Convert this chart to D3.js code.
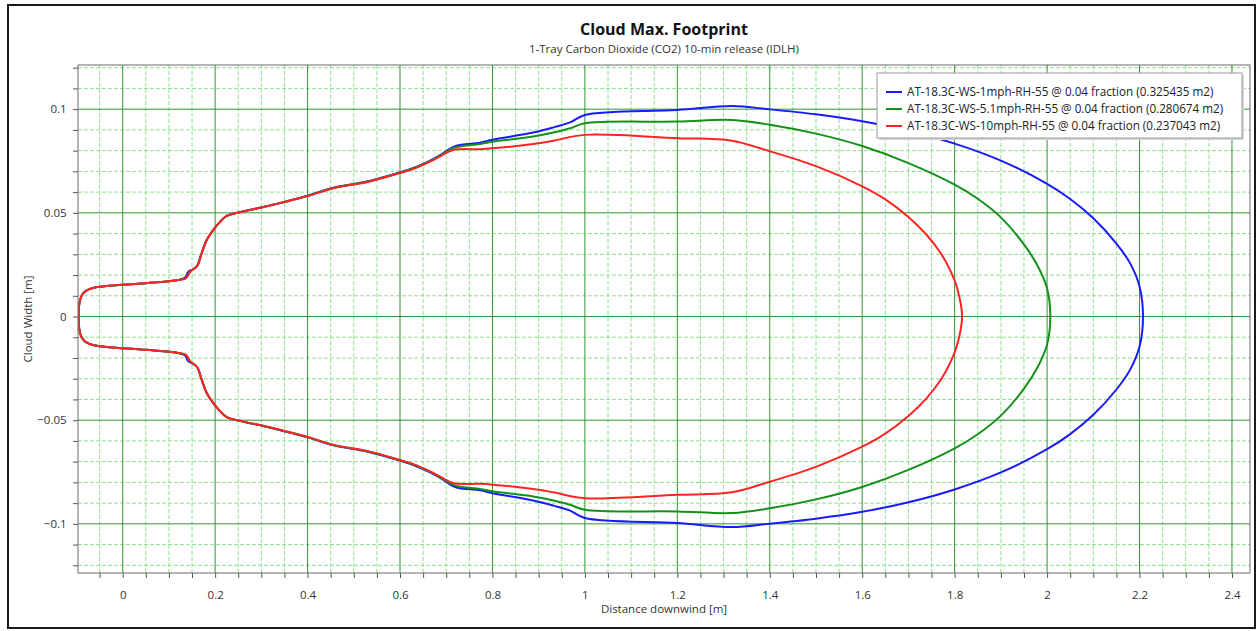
<!DOCTYPE html>
<html>
<head>
<meta charset="utf-8">
<script src="https://cdn.jsdelivr.net/npm/d3@7"></script>
<style>
  body { margin: 0; background: #fff; }
  svg { font-family: "Open Sans", "Noto Sans", sans-serif; }
</style>
</head>
<body>
<svg id="chart" width="1259" height="631"></svg>
<script>
// upper edge of each cloud footprint, [distance, half width]; lower edge is its mirror
const blueUpper = [
  [-0.095, 0], [-0.094, 0.006], [-0.09, 0.0095], [-0.083, 0.0118], [-0.072, 0.0132],
  [-0.06, 0.014], [-0.03, 0.0148], [0, 0.0153], [0.04, 0.0159], [0.081, 0.0166],
  [0.12, 0.0176], [0.135, 0.0188], [0.142, 0.0216], [0.152, 0.0228], [0.162, 0.0246],
  [0.171, 0.0306], [0.182, 0.037], [0.196, 0.0418], [0.21, 0.0455], [0.225, 0.0485],
  [0.26, 0.0507], [0.304, 0.0528], [0.35, 0.0553], [0.402, 0.0584], [0.456, 0.0621],
  [0.528, 0.0651], [0.598, 0.0694], [0.629, 0.0716], [0.665, 0.0752], [0.686, 0.0777],
  [0.719, 0.0822], [0.773, 0.0838], [0.8, 0.0852], [0.888, 0.0887], [0.932, 0.0912],
  [0.968, 0.0936], [1.0, 0.0972], [1.2, 0.0996], [1.318, 0.1015], [1.4, 0.0999],
  [1.5, 0.0975], [1.6, 0.0942], [1.7, 0.0896], [1.8, 0.0834], [1.9, 0.0752],
  [2.0, 0.064], [2.05, 0.0567], [2.1, 0.0474], [2.15, 0.0352], [2.18, 0.0255],
  [2.2, 0.0145], [2.2075, 0]
];
const greenUpper = [
  [-0.095, 0], [-0.094, 0.006], [-0.09, 0.0095], [-0.083, 0.0118], [-0.072, 0.0132],
  [-0.06, 0.014], [-0.03, 0.0148], [0, 0.0153], [0.04, 0.0159], [0.081, 0.0166],
  [0.12, 0.0176], [0.137, 0.0186], [0.146, 0.0217], [0.16, 0.0241], [0.171, 0.0306],
  [0.182, 0.037], [0.196, 0.0418], [0.21, 0.0455], [0.225, 0.0485], [0.26, 0.0507],
  [0.304, 0.0528], [0.35, 0.0553], [0.402, 0.0583], [0.456, 0.062], [0.528, 0.065],
  [0.598, 0.0692], [0.629, 0.0714], [0.665, 0.0749], [0.686, 0.0774], [0.719, 0.0815],
  [0.773, 0.0832], [0.8, 0.0843], [0.888, 0.0868], [0.932, 0.0887], [0.968, 0.0908],
  [1.0, 0.0932], [1.2, 0.094], [1.318, 0.0948], [1.4, 0.0925], [1.5, 0.0882],
  [1.6, 0.0822], [1.7, 0.074], [1.8, 0.0636], [1.85, 0.0568], [1.9, 0.0478],
  [1.95, 0.0348], [1.98, 0.0242], [2.0, 0.0135], [2.007, 0]
];
const redUpper = [
  [-0.095, 0], [-0.094, 0.006], [-0.09, 0.0095], [-0.083, 0.0118], [-0.072, 0.0132],
  [-0.06, 0.014], [-0.03, 0.0148], [0, 0.0153], [0.04, 0.0159], [0.081, 0.0166],
  [0.12, 0.0176], [0.137, 0.0185], [0.146, 0.0217], [0.16, 0.0241], [0.171, 0.0306],
  [0.182, 0.037], [0.196, 0.0418], [0.21, 0.0455], [0.225, 0.0485], [0.26, 0.0506],
  [0.304, 0.0527], [0.35, 0.0552], [0.402, 0.0582], [0.456, 0.0619], [0.528, 0.0648],
  [0.598, 0.0691], [0.629, 0.0712], [0.665, 0.0747], [0.686, 0.0771], [0.715, 0.0803],
  [0.773, 0.0807], [0.8, 0.0811], [0.888, 0.0832], [0.932, 0.0848], [1.0, 0.0876],
  [1.2, 0.086], [1.318, 0.0848], [1.4, 0.0797], [1.5, 0.0725], [1.6, 0.0628],
  [1.65, 0.0565], [1.7, 0.048], [1.74, 0.0392], [1.77, 0.0305], [1.79, 0.0225],
  [1.805, 0.014], [1.816, 0]
];

const seriesNames = [
  'AT-18.3C-WS-1mph-RH-55 @ 0.04 fraction (0.325435 m2)',
  'AT-18.3C-WS-5.1mph-RH-55 @ 0.04 fraction (0.280674 m2)',
  'AT-18.3C-WS-10mph-RH-55 @ 0.04 fraction (0.237043 m2)'
];
const seriesColors = ['#1a1aff', '#15911a', '#ff2424'];
const seriesData = [blueUpper, greenUpper, redUpper];

const xMajorTicks = [0, 0.2, 0.4, 0.6, 0.8, 1, 1.2, 1.4, 1.6, 1.8, 2, 2.2, 2.4];
const yMajorTicks = [-0.1, -0.05, 0, 0.05, 0.1];
const xDomain = [-0.0967, 2.439];
const yDomain = [-0.1237, 0.1213];

const margin = { top: 65, right: 9, bottom: 58, left: 78 };
const totalW = 1259, totalH = 631;
const width = totalW - margin.left - margin.right;
const height = totalH - margin.top - margin.bottom;

const svg = d3.select('#chart');

// outer frame
svg.append('rect')
  .attr('x', 8).attr('y', 5)
  .attr('width', 1247).attr('height', 623)
  .attr('fill', '#fff')
  .attr('stroke', '#1a1a1a')
  .attr('stroke-width', 2);

svg.append('text')
  .attr('x', margin.left + width / 2).attr('y', 35)
  .attr('text-anchor', 'middle')
  .attr('font-size', 16).attr('font-weight', 'bold')
  .attr('fill', '#111')
  .text('Cloud Max. Footprint');

svg.append('text')
  .attr('x', margin.left + width / 2).attr('y', 53)
  .attr('text-anchor', 'middle')
  .attr('font-size', 11.5)
  .attr('fill', '#333')
  .text('1-Tray Carbon Dioxide (CO2) 10-min release (IDLH)');

const x = d3.scaleLinear().domain(xDomain).range([0, width]);
const y = d3.scaleLinear().domain(yDomain).range([height, 0]);

const g = svg.append('g')
  .attr('transform', `translate(${margin.left}, ${margin.top})`);

g.append('defs').append('clipPath').attr('id', 'plotClip')
  .append('rect').attr('width', width).attr('height', height);

const isMajor = (ticks, v) => ticks.some((t) => Math.abs(t - v) < 1e-6);

// minor grid, dashed light green
const xMinor = d3.range(-0.05, 2.44, 0.05).filter((v) => !isMajor(xMajorTicks, v));
const yMinor = d3.range(-0.12, 0.121, 0.01).filter((v) => !isMajor(yMajorTicks, v));

g.append('g').selectAll('line').data(xMinor).join('line')
  .attr('x1', (d) => x(d)).attr('x2', (d) => x(d))
  .attr('y1', 0).attr('y2', height)
  .attr('stroke', '#8fe08f').attr('stroke-dasharray', '4,2');

g.append('g').selectAll('line').data(yMinor).join('line')
  .attr('y1', (d) => y(d)).attr('y2', (d) => y(d))
  .attr('x1', 0).attr('x2', width)
  .attr('stroke', '#8fe08f').attr('stroke-dasharray', '4,2');

// major grid
g.append('g').selectAll('line').data(xMajorTicks).join('line')
  .attr('x1', (d) => x(d)).attr('x2', (d) => x(d))
  .attr('y1', 0).attr('y2', height)
  .attr('stroke', '#2f962f');

g.append('g').selectAll('line').data(yMajorTicks).join('line')
  .attr('y1', (d) => y(d)).attr('y2', (d) => y(d))
  .attr('x1', 0).attr('x2', width)
  .attr('stroke', '#2f962f');

// footprints: upper edge out, mirrored lower edge back, closed
const outline = d3.line()
  .x((d) => x(d[0]))
  .y((d) => y(d[1]))
  .curve(d3.curveCatmullRomClosed.alpha(0.5));

const plot = g.append('g').attr('clip-path', 'url(#plotClip)');
seriesData.forEach((pts, i) => {
  const lower = pts.slice(1, -1).reverse().map((p) => [p[0], -p[1]]);
  plot.append('path')
    .datum(pts.concat(lower))
    .attr('fill', 'none')
    .attr('stroke', seriesColors[i])
    .attr('stroke-width', 2)
    .attr('stroke-linejoin', 'round')
    .attr('d', outline);
});

// axes
const xAxis = g.append('g')
  .attr('transform', `translate(0, ${height})`)
  .call(d3.axisBottom(x)
    .tickValues(d3.range(-0.05, 2.44, 0.05))
    .tickSize(5)
    .tickFormat((d) => (isMajor(xMajorTicks, d) ? d3.format('~g')(+d.toFixed(2)) : '')));

const yAxis = g.append('g')
  .call(d3.axisLeft(y)
    .tickValues(d3.range(-0.12, 0.121, 0.01))
    .tickSize(5)
    .tickFormat((d) => (isMajor(yMajorTicks, d) ? d3.format('~g')(+d.toFixed(2)) : '')));

[xAxis, yAxis].forEach((ax) => {
  ax.select('.domain').remove();
  ax.selectAll('.tick line').attr('stroke', '#555');
  ax.selectAll('.tick text')
    .attr('font-size', 11.5)
    .attr('font-family', '"Open Sans", sans-serif')
    .attr('fill', '#333');
});
xAxis.selectAll('.tick text').attr('dy', '1.6em');
yAxis.selectAll('.tick text').attr('dx', '-0.3em');

// plot border
g.append('rect')
  .attr('width', width).attr('height', height)
  .attr('fill', 'none')
  .attr('stroke', '#6b6b6b');

g.append('text')
  .attr('x', width / 2).attr('y', height + 40)
  .attr('text-anchor', 'middle')
  .attr('font-size', 11.5).attr('fill', '#333')
  .text('Distance downwind [m]');

g.append('text')
  .attr('transform', `translate(${-46}, ${height / 2}) rotate(-90)`)
  .attr('text-anchor', 'middle')
  .attr('font-size', 11.5).attr('fill', '#333')
  .text('Cloud Width [m]');

// legend
const legend = svg.append('g').attr('transform', 'translate(877, 73)');
legend.append('rect')
  .attr('x', 2).attr('y', 2)
  .attr('width', 365).attr('height', 65)
  .attr('fill', '#d8d8d8');
legend.append('rect')
  .attr('width', 365).attr('height', 65)
  .attr('fill', '#fff')
  .attr('stroke', '#9a9a9a');

seriesNames.forEach((name, i) => {
  const row = legend.append('g').attr('transform', `translate(0, ${19 + i * 17})`);
  row.append('line')
    .attr('x1', 9).attr('x2', 25)
    .attr('stroke', seriesColors[i]).attr('stroke-width', 2);
  row.append('text')
    .attr('x', 30).attr('dy', '0.35em')
    .attr('font-size', 11.7).attr('fill', '#222')
    .text(name);
});
</script>
</body>
</html>
